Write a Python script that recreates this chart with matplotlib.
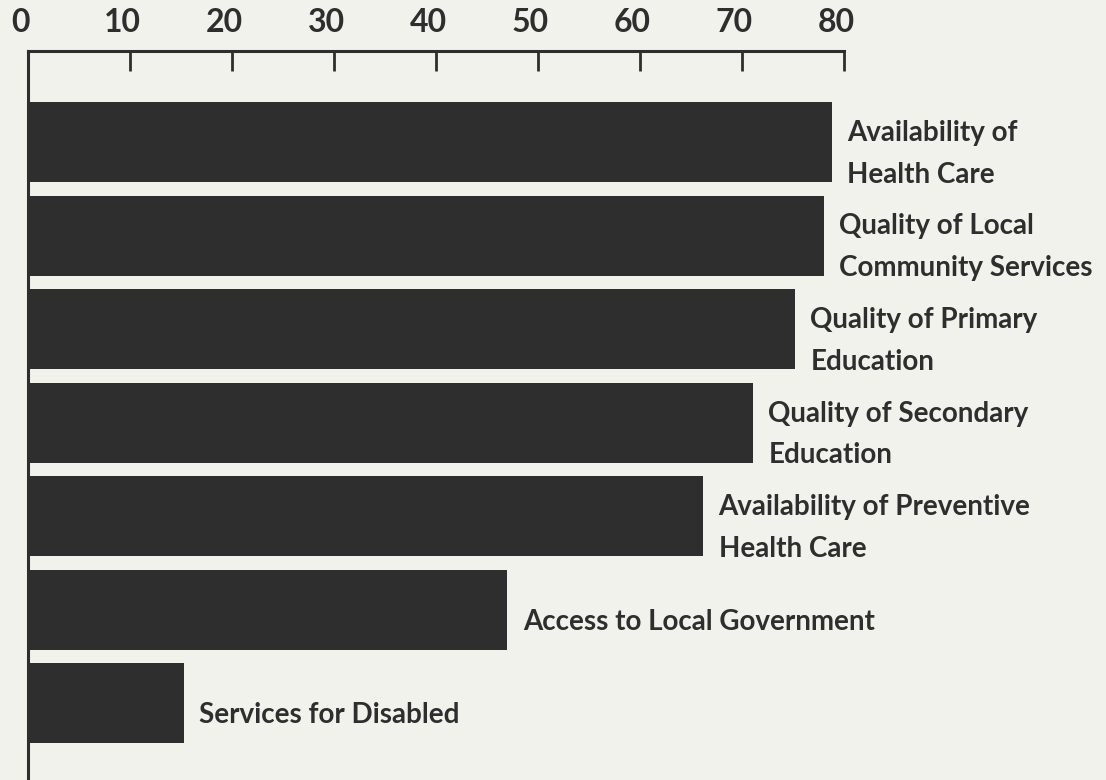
import numpy as np
import matplotlib
matplotlib.use("Agg")
from matplotlib import pyplot as plt
from matplotlib.transforms import ScaledTranslation

# values (percent)
categories = ["Availability of\nHealth Care",
              "Quality of Local\nCommunity Services",
              "Quality of Primary\nEducation",
              "Quality of Secondary\nEducation",
              "Availability of Preventive\nHealth Care",
              "Access to Local Government",
              "Services for Disabled"]
values = [78.8, 78.0, 75.2, 71.1, 66.2, 47.0, 15.3]
ticks = [0, 10, 20, 30, 40, 50, 60, 70, 80]

paper = "#f2f2ec"
ink = "#2e2e2e"
plt.rcParams['font.family'] = ['Lato', 'DejaVu Sans']

fig = plt.figure(figsize=(11.06, 7.8), dpi=100, facecolor=paper)
ax = fig.add_axes([28 / 1106, 0, 816 / 1106, 729 / 780])
ax.set_facecolor(paper)

pos = np.arange(len(values))
ax.barh(pos, values, height=0.856, color=ink, edgecolor="none")
ax.set_xlim(0, 80)
ax.set_ylim(6.82, -0.973)

for i in range(len(values)):
    ax.annotate(categories[i], (values[i], pos[i]), xytext=(11, -8.5),
                textcoords="offset points", va="center", ha="left",
                fontsize=20, fontweight="bold", color=ink,
                linespacing=1.75, annotation_clip=False)

# axis on top, ticks pointing down into the plot
for side in ["right", "bottom"]:
    ax.spines[side].set_visible(False)
for side in ["top", "left"]:
    ax.spines[side].set_linewidth(2.2)
    ax.spines[side].set_color(ink)
ax.yaxis.set_visible(False)
ax.xaxis.tick_top()
ax.set_xticks(ticks)
ax.set_xticklabels([str(t) for t in ticks])
ax.set_xticks([80], minor=True)
ax.tick_params(axis="x", which="major", direction="in", length=14.4, width=2.0,
               color=ink, pad=10, labelsize=23, labelcolor=ink)
ax.tick_params(axis="x", which="minor", direction="in", length=19.5, width=2.0,
               color=ink)
shift = ScaledTranslation(-8 / 100, 0, fig.dpi_scale_trans)
for lab in ax.get_xticklabels():
    lab.set_transform(lab.get_transform() + shift)
    lab.set_fontweight("bold")

fig.savefig("out.png", dpi=100, facecolor=paper)
